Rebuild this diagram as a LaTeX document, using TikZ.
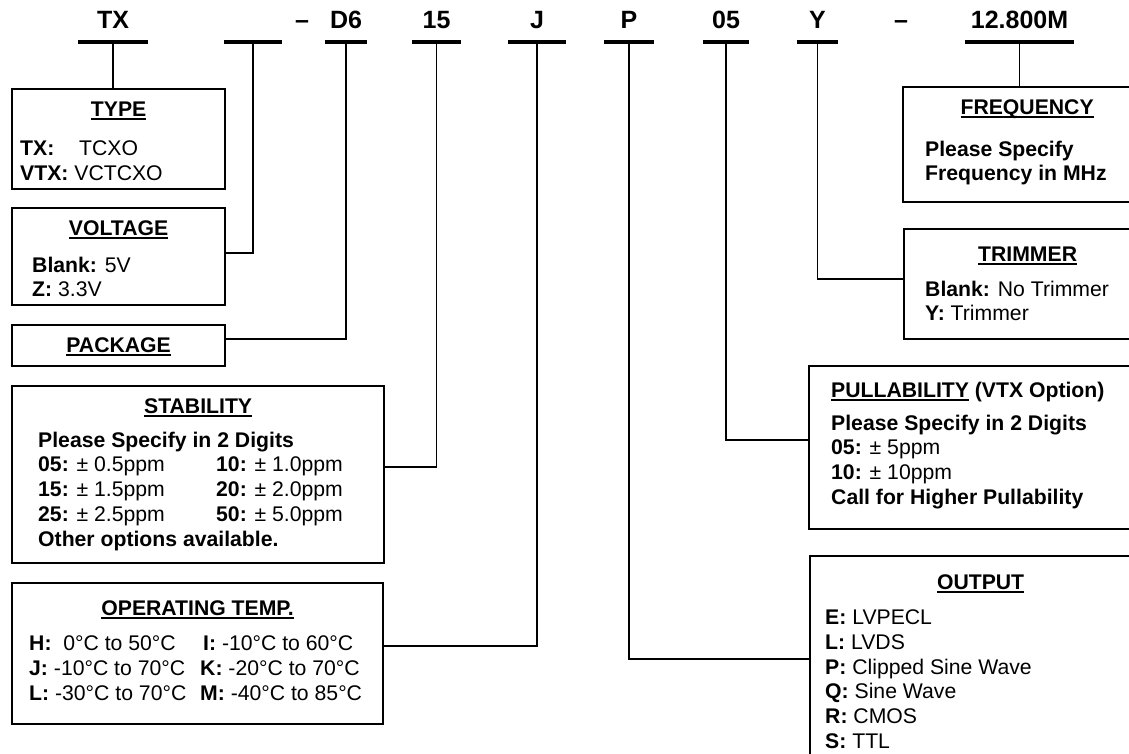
\documentclass[tikz,border=0pt]{standalone}
\usepackage{fontspec}
\setmainfont{Liberation Sans}
\usetikzlibrary{positioning}

\newcommand\bodyfont{\fontsize{21.2}{24.8}\selectfont}
\newcommand\codefont{\fontsize{25}{29}\selectfont\bfseries}
\newcommand\ul[1]{\setbox0\hbox{#1}\rlap{\rule[-3.2pt]{\wd0}{1.8pt}}\box0\relax}

\begin{document}
\begin{tikzpicture}[
  x=1pt,y=-1pt,
  code/.style={font=\codefont,inner sep=0pt,anchor=base},
  bar/.style={fill=black,minimum height=3.6pt,inner sep=0pt},
  box/.style={draw,line width=2.2pt,anchor=north west,inner sep=0pt},
  head/.style={font=\bodyfont\bfseries,inner sep=0pt,anchor=base},
  body/.style={font=\bodyfont,align=left,anchor=north west,inner sep=0pt},
  link/.style={line width=1.3pt}
]
\useasboundingbox (0,0) rectangle (1129,753);
\fill[white] (0,0) rectangle (1129,753);
\clip (0,0) rectangle (1129,753);

% part number bars
\node[bar,minimum width=70pt] (bTX) at (113,42) {};
\node[bar,minimum width=58pt] (bBL) at (253,42) {};
\node[bar,minimum width=42pt] (bD6) at (346,42) {};
\node[bar,minimum width=49pt] (b15) at (436.5,42) {};
\node[bar,minimum width=58pt] (bJ) at (537,42) {};
\node[bar,minimum width=50pt] (bP) at (629,42) {};
\node[bar,minimum width=46pt] (b05) at (726,42) {};
\node[bar,minimum width=41pt] (bY) at (817.5,42) {};
\node[bar,minimum width=109pt] (bMHz) at (1019.5,42) {};

\node[code] (cTX) at ([yshift=13.5pt]bTX.center) {TX};
\node[code] (dash1) at (302,28.5) {--};
\node[code] (cD6) at ([yshift=13.5pt]bD6.center) {D6};
\node[code] (c15) at ([yshift=13.5pt]b15.center) {15};
\node[code] (cJ) at ([yshift=13.5pt]bJ.center) {J};
\node[code] (cP) at ([yshift=13.5pt]bP.center) {P};
\node[code] (c05) at ([yshift=13.5pt]b05.center) {05};
\node[code] (cY) at ([yshift=13.5pt]bY.center) {Y};
\node[code] (dash2) at (901,28.5) {--};
\node[code] (cMHz) at ([yshift=13.5pt]bMHz.center) {12.800M};

% left column
\node[box,minimum width=213pt,minimum height=100pt] (type) at (11,88) {};
\node[head] (typeh) at ([yshift=-28.5pt]type.north) {\ul{TYPE}};
\node[body] (typeb) at (20,140.5) {\makebox[59pt][l]{\textbf{TX:}}TCXO\\\textbf{VTX:} VCTCXO};

\node[box,minimum width=213pt,minimum height=97pt] (volt) at (11,207) {};
\node[head] (volth) at ([yshift=-28.5pt]volt.north) {\ul{VOLTAGE}};
\node[body] (voltb) at (32,256.5) {\textbf{Blank:} 5V\\\textbf{Z:} 3.3V};

\node[box,minimum width=213pt,minimum height=41pt] (pack) at (11,324) {};
\node[head] (packh) at ([yshift=-28.5pt]pack.north) {\ul{PACKAGE}};

\node[box,minimum width=372pt,minimum height=177pt] (stab) at (11,385) {};
\node[head] (stabh) at ([yshift=-28.5pt]stab.north) {\ul{STABILITY}};
\node[body] (stabb) at (38,431.5) {\textbf{Please Specify in 2 Digits}\\
  \makebox[178pt][l]{\textbf{05:} ± 0.5ppm}\textbf{10:} ± 1.0ppm\\
  \makebox[178pt][l]{\textbf{15:} ± 1.5ppm}\textbf{20:} ± 2.0ppm\\
  \makebox[178pt][l]{\textbf{25:} ± 2.5ppm}\textbf{50:} ± 5.0ppm\\
  \textbf{Other options available.}};

\node[box,minimum width=371pt,minimum height=141pt] (temp) at (11,582) {};
\node[head] (temph) at ([yshift=-33.5pt]temp.north) {\ul{OPERATING TEMP.}};
\node[body] (tempb) at (29,635.5) {\makebox[174pt][l]{\textbf{H:}\ \ 0°C to 50°C}\textbf{I:} -10°C to 60°C\\
  \makebox[171pt][l]{\textbf{J:} -10°C to 70°C}\textbf{K:} -20°C to 70°C\\
  \makebox[171pt][l]{\textbf{L:} -30°C to 70°C}\textbf{M:} -40°C to 85°C};

% right column
\node[box,minimum width=248pt,minimum height=115pt] (freq) at (902,86) {};
\node[head] (freqh) at ([yshift=-28.5pt]freq.north) {\ul{FREQUENCY}};
\node[body,font=\bodyfont\bfseries] (freqb) at (925,140.5) {Please Specify\\Frequency in MHz};

\node[box,minimum width=247pt,minimum height=110pt] (trim) at (903,228) {};
\node[head] (trimh) at ([yshift=-33.5pt]trim.north) {\ul{TRIMMER}};
\node[body] (trimb) at (925,280.5) {\textbf{Blank:} No Trimmer\\\textbf{Y:} Trimmer};

\node[box,minimum width=342pt,minimum height=163pt] (pull) at (808,365) {};
\node[head,anchor=base west] (pullh) at (831,397.5) {\ul{PULLABILITY} (VTX Option)};
\node[body] (pullb) at (831,414.5) {\textbf{Please Specify in 2 Digits}\\
  \textbf{05:} ± 5ppm\\\textbf{10:} ± 10ppm\\\textbf{Call for Higher Pullability}};

\node[box,minimum width=341pt,minimum height=230pt] (outp) at (809,555) {};
\node[head] (outph) at ([yshift=-34.5pt]outp.north) {\ul{OUTPUT}};
\node[body] (outpb) at (825,609.5) {\textbf{E:} LVPECL\\\textbf{L:} LVDS\\\textbf{P:} Clipped Sine Wave\\
  \textbf{Q:} Sine Wave\\\textbf{R:} CMOS\\\textbf{S:} TTL};

% connectors
\draw[link] (bTX.south) -- (bTX.south |- type.north);
\draw[link] (bBL.south) |- ([yshift=3.5pt]volt.east);
\draw[link] (bD6.south) |- ([yshift=6.5pt]pack.east);
\draw[link] (b15.south) |- ([yshift=7.5pt]stab.east);
\draw[link] (bJ.south) |- ([yshift=7.5pt]temp.east);
\draw[link] (bP.south) |- ([yshift=12pt]outp.west);
\draw[link] (b05.south) |- ([yshift=7.5pt]pull.west);
\draw[link] (bY.south) |- ([yshift=5pt]trim.west);
\draw[link] (bMHz.south) -- (bMHz.south |- freq.north);
\end{tikzpicture}
\end{document}
